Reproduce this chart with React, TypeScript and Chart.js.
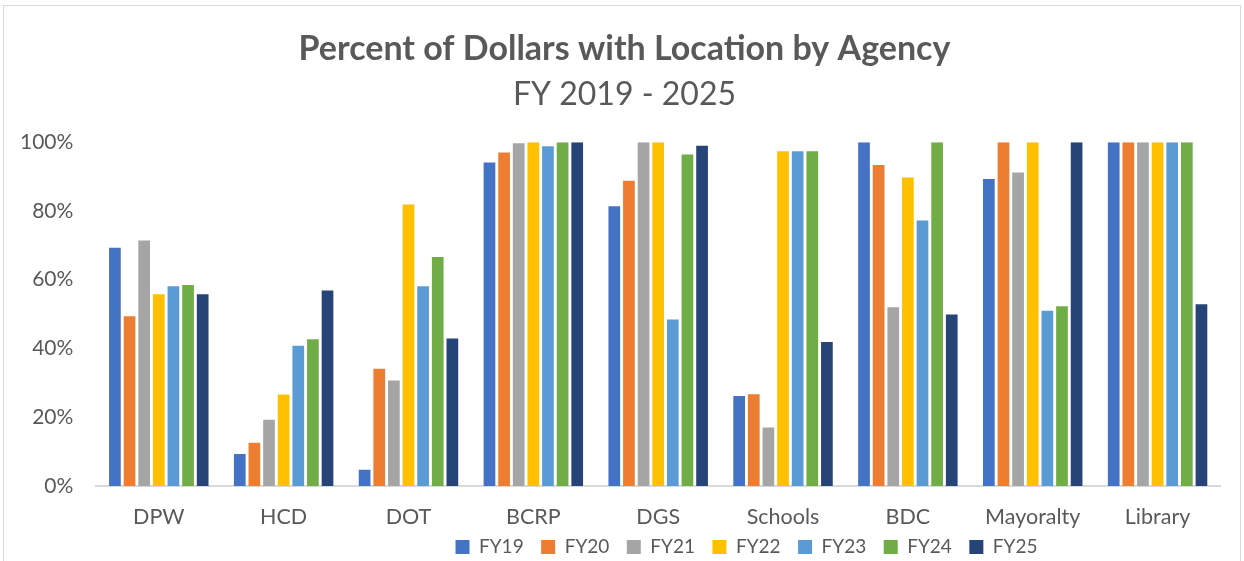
import React, { useEffect, useRef } from "react";
import { Chart, registerables } from "chart.js";

Chart.register(...registerables);

const agencies = ["DPW", "HCD", "DOT", "BCRP", "DGS", "Schools", "BDC", "Mayoralty", "Library"];
const fy19 = [69.3, 9.3, 4.7, 94.1, 81.4, 26.2, 100, 89.3, 100];
const fy20 = [49.4, 12.6, 34.1, 97.0, 88.8, 26.7, 93.4, 100, 100];
const fy21 = [71.4, 19.3, 30.7, 99.7, 100, 17.0, 52.0, 91.2, 100];
const fy22 = [55.8, 26.6, 81.9, 100, 100, 97.4, 89.7, 100, 100];
const fy23 = [58.1, 40.8, 58.1, 98.8, 48.4, 97.4, 77.2, 51.0, 100];
const fy24 = [58.5, 42.7, 66.6, 100, 96.4, 97.4, 100, 52.3, 100];
const fy25 = [55.8, 56.9, 42.9, 100, 99.0, 41.9, 49.9, 100, 52.9];
const seriesNames = ["FY19", "FY20", "FY21", "FY22", "FY23", "FY24", "FY25"];
const seriesColors = ["#4472C4", "#ED7D31", "#A5A5A5", "#FFC000", "#5B9BD5", "#70AD47", "#264478"];
const yTicks = [0, 20, 40, 60, 80, 100];

const FONT = "Lato, 'Liberation Sans', sans-serif";
const GREY = "#595959";

const legendPlugin = {
  id: "legendTweak",
  beforeInit(chart: any) {
    const lg = chart.legend;
    if (lg && !lg.__patched) {
      const origFit = lg.fit.bind(lg);
      lg.fit = function () {
        origFit();
        this.height = 31;
        this.bottom = this.top + 31;
      };
      const origDraw = lg.draw.bind(lg);
      lg.draw = function () {
        const ctx = this.ctx;
        const oldBottom = this.bottom;
        this.bottom = oldBottom + 40;
        ctx.save();
        ctx.translate(122, -10);
        origDraw();
        ctx.restore();
        this.bottom = oldBottom;
      };
      lg.__patched = true;
    }
  },
};

export default function App() {
  const ref = useRef<HTMLCanvasElement | null>(null);

  useEffect(() => {
    document.body.style.margin = "0";
    const values = [fy19, fy20, fy21, fy22, fy23, fy24, fy25];
    const chart = new Chart(ref.current as HTMLCanvasElement, {
      type: "bar",
      data: {
        labels: agencies,
        datasets: seriesNames.map((name, i) => ({
          label: name,
          data: values[i],
          backgroundColor: seriesColors[i],
          borderWidth: 0,
          categoryPercentage: 0.82,
          barPercentage: 0.8,
        })),
      },
      plugins: [legendPlugin],
      options: {
        responsive: false,
        animation: false,
        layout: { padding: { left: 5, right: 0, top: 0, bottom: 0 } },
        plugins: {
          title: {
            display: true,
            text: "Percent of Dollars with Location by Agency",
            color: GREY,
            font: { family: FONT, size: 34, weight: "bold", lineHeight: 1.2 },
            padding: { top: 29, bottom: 0 },
          },
          subtitle: {
            display: true,
            text: "FY 2019 - 2025",
            color: GREY,
            font: { family: FONT, size: 32, weight: "normal", lineHeight: 1.2 },
            padding: { top: 6, bottom: 28 },
          },
          legend: {
            position: "bottom",
            labels: {
              color: GREY,
              font: { family: FONT, size: 19 },
              boxWidth: 14,
              boxHeight: 14,
              padding: 17.5,
            },
          },
          tooltip: { enabled: false },
        },
        scales: {
          x: {
            grid: { display: false, drawTicks: false, tickLength: 0 },
            border: { display: true, color: "#D9D9D9", width: 2 },
            ticks: { color: GREY, font: { family: FONT, size: 21.5 }, padding: 18 },
            afterFit: (s: any) => {
              s.height = 44;
            },
          },
          y: {
            min: 0,
            max: 100,
            afterBuildTicks: (axis: any) => {
              axis.ticks = yTicks.map((v) => ({ value: v }));
            },
            grid: { display: false },
            border: { display: false },
            ticks: {
              color: GREY,
              font: { family: FONT, size: 21 },
              padding: 15,
              callback: (v: any) => v + "%",
            },
          },
          yRightSpace: {
            position: "right",
            display: true,
            min: 0,
            max: 100,
            grid: { display: false },
            border: { display: false },
            ticks: { display: false },
            afterFit: (s: any) => {
              s.width = 24;
            },
          },
        },
      },
    });
    return () => chart.destroy();
  }, []);

  return (
    <div style={{ position: "fixed", left: 0, top: 0, width: 1244, height: 561, background: "#fff", overflow: "hidden" }}>
      <div style={{ position: "absolute", left: 3, top: 5, width: 1236, height: 600, border: "1px solid #D9D9D9" }} />
      <canvas ref={ref} width={1244} height={561} style={{ position: "absolute", left: 0, top: 0 }} />
    </div>
  );
}
